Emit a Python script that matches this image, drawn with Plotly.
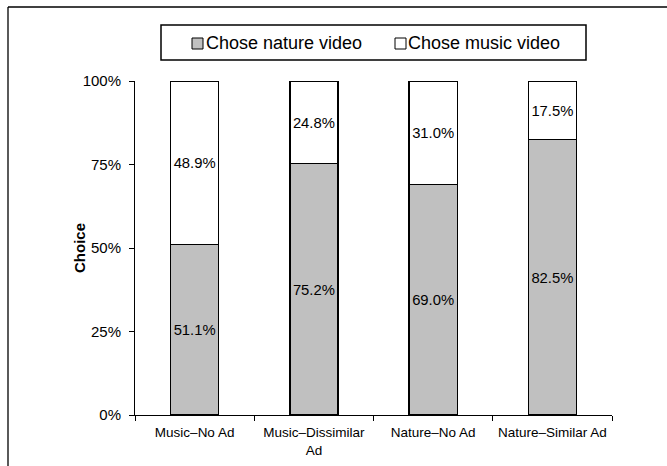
import plotly.graph_objects as go

categories = ["Music–No Ad", "Music–Dissimilar<br>Ad", "Nature–No Ad", "Nature–Similar Ad"]
nature_pct = [51.1, 75.2, 69.0, 82.5]
music_pct = [48.9, 24.8, 31.0, 17.5]
y_ticks = [0, 25, 50, 75, 100]
y_tick_text = ["0%", "25%", "50%", "75%", "100%"]
series_names = ["Chose nature video", "Chose music video"]
series_colors = ["#c0c0c0", "white"]

FONT = "Liberation Sans, Arial, sans-serif"
W, H = 667, 466
L, R, T, B = 135, 55, 81, 51
pw, ph = W - L - R, H - T - B


def px_x(x):
    return (x - L) / pw


def px_y(y):
    return (H - B - y) / ph


fig = go.Figure()
for name, vals, color in zip(series_names, [nature_pct, music_pct], series_colors):
    fig.add_trace(go.Bar(
        x=categories, y=vals, name=name, showlegend=False,
        marker=dict(color=color, line=dict(color="black", width=1.3)),
        text=[f"{v:.1f}%" for v in vals], textposition="inside",
        insidetextanchor="middle", textangle=0,
        textfont=dict(size=15, color="black", family=FONT),
        width=0.403,
    ))

shapes = [
    # legend frame
    dict(type="rect", xref="paper", yref="paper",
         x0=px_x(161), x1=px_x(586), y0=px_y(60), y1=px_y(25),
         line=dict(color="black", width=1.5), fillcolor="rgba(0,0,0,0)"),
    # outer frame (left and top edges)
    dict(type="line", xref="paper", yref="paper",
         x0=px_x(8), x1=px_x(8), y0=px_y(7), y1=px_y(470),
         line=dict(color="black", width=1.3)),
    dict(type="line", xref="paper", yref="paper",
         x0=px_x(8), x1=px_x(670), y0=px_y(7), y1=px_y(7),
         line=dict(color="black", width=1.3)),
]

annotations = [
    # y-axis title
    dict(text="<b>Choice</b>", xref="paper", yref="paper",
         x=px_x(79), y=0.5, xanchor="center", yanchor="middle", textangle=-90,
         showarrow=False, font=dict(size=15, family=FONT, color="black")),
]
# legend keys drawn as small squares with text beside them
legend_pos = [(192, 206), (395, 408)]
for (sx, tx), name, color in zip(legend_pos, series_names, series_colors):
    shapes.append(dict(type="rect", xref="paper", yref="paper",
                       x0=px_x(sx), x1=px_x(sx + 11), y0=px_y(49), y1=px_y(38),
                       line=dict(color="black", width=1), fillcolor=color))
    annotations.append(dict(text=name, xref="paper", yref="paper",
                            x=px_x(tx - 2), y=px_y(43), xanchor="left", yanchor="middle",
                            showarrow=False, font=dict(size=18, family=FONT, color="black")))

fig.update_layout(
    width=W, height=H, barmode="stack",
    margin=dict(l=L, r=R, t=T, b=B),
    paper_bgcolor="white", plot_bgcolor="white",
    font=dict(family=FONT, size=13, color="black"),
    shapes=shapes, annotations=annotations,
    showlegend=False,
    xaxis=dict(showline=True, linecolor="black", linewidth=1,
               ticks="outside", ticklen=5, tickcolor="black",
               tickson="boundaries", showgrid=False, automargin=False,
               ticklabelstandoff=5,
               tickfont=dict(size=13.5, family=FONT)),
    yaxis=dict(range=[0, 100], tickvals=y_ticks, ticktext=y_tick_text,
               showline=True, linecolor="black", linewidth=1,
               ticks="outside", ticklen=5, tickcolor="black",
               showgrid=False, zeroline=False, automargin=False,
               ticklabelstandoff=5,
               tickfont=dict(size=15, family=FONT)),
)

fig.write_html("out.html")
